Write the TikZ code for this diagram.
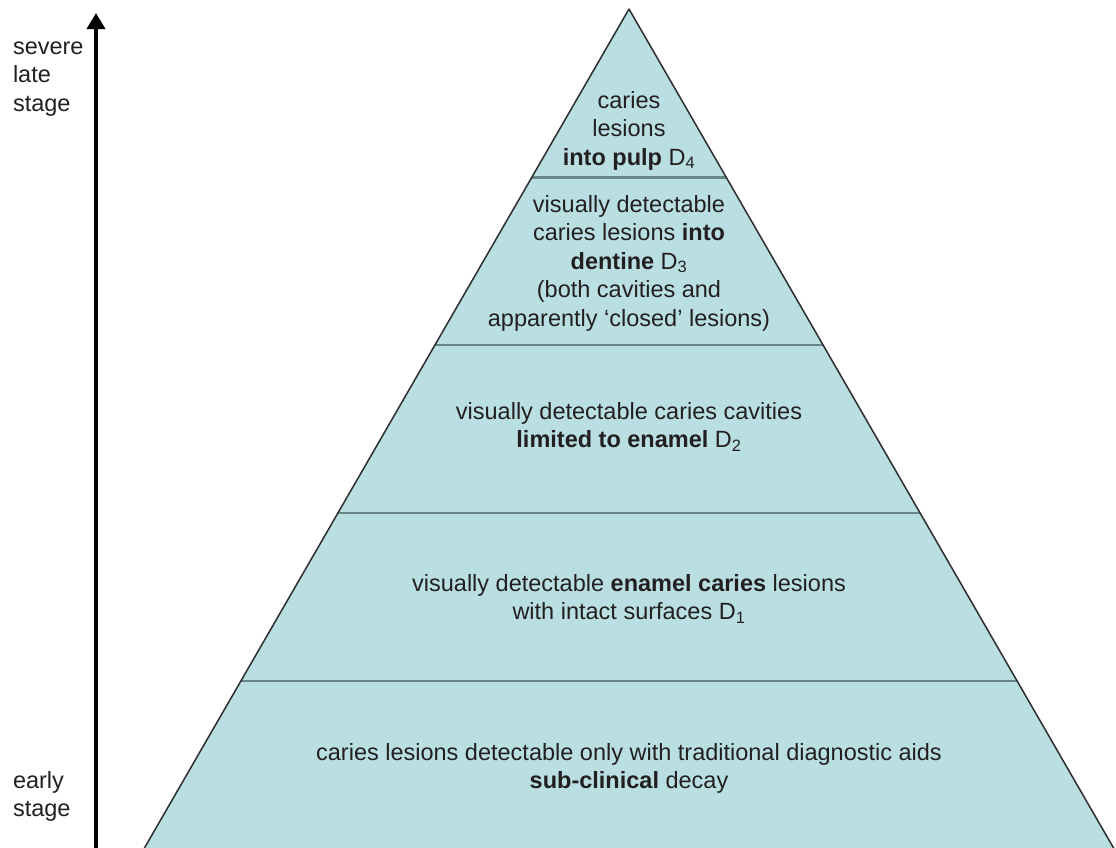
\documentclass[tikz,border=0pt]{standalone}
\usepackage{fontspec}
\setmainfont{Liberation Sans}
\usetikzlibrary{arrows.meta,calc}

\definecolor{layerfill}{RGB}{185,223,227}
\definecolor{divider}{RGB}{105,133,135}
\definecolor{edge}{RGB}{45,45,45}
\definecolor{ink}{RGB}{35,31,32}

% centred / left-aligned line stacks whose baseline is the first line
\newcommand{\cstack}[1]{\begin{tabular}[t]{@{}c@{}}#1\end{tabular}}
\newcommand{\lstack}[1]{\begin{tabular}[t]{@{}l@{}}#1\end{tabular}}

\begin{document}
\begin{tikzpicture}[x=1pt,y=-1pt,
  every node/.style={inner sep=0pt,outer sep=0pt,text=ink,
    font=\fontsize{23.5}{28.5}\selectfont},
  layertext/.style={anchor=base},
  sidetext/.style={anchor=base west},
  layerline/.style={draw=divider,line width=2.6pt},
  sideline/.style={draw=edge,line width=1.5pt,line join=round},
  axisarrow/.style={draw=black,line width=3.5pt,
    -{Triangle[length=16pt,width=18pt]}}]

\clip (0,0) rectangle (1116,847);

% pyramid outline (base runs past the lower edge)
\coordinate (apex) at (629,9);
\coordinate (bl) at ($(apex)!1.018!(145,847)$);
\coordinate (br) at ($(apex)!1.018!(1113,847)$);
\fill[layerfill] (apex) -- (bl) -- (br) -- cycle;

% boundaries between the stages
\foreach \y/\n in {177.5/a,345/b,513/c,681/d}{
  \pgfmathsetmacro{\t}{(\y-9)/838}
  \coordinate (\n L) at ($(apex)!\t!(145,847)$);
  \coordinate (\n R) at ($(apex)!\t!(1113,847)$);
  \draw[layerline] (\n L) -- (\n R);
}
\draw[sideline] (bl) -- (apex) -- (br);

% stage descriptions
\node[layertext] (d4) at (629,108)
  {\cstack{caries\\lesions\\\textbf{into pulp} D\textsubscript{4}}};
\node[layertext] (d3) at (629,212)
  {\cstack{visually detectable\\caries lesions \textbf{into}\\\textbf{dentine} D\textsubscript{3}\\(both cavities and\\apparently ‘closed’ lesions)}};
\node[layertext] (d2) at (629,419)
  {\cstack{visually detectable caries cavities\\\textbf{limited to enamel} D\textsubscript{2}}};
\node[layertext] (d1) at (629,591)
  {\cstack{visually detectable \textbf{enamel caries} lesions\\with intact surfaces D\textsubscript{1}}};
\node[layertext] (d0) at (629,760)
  {\cstack{caries lesions detectable only with traditional diagnostic aids\\\textbf{sub-clinical} decay}};

% severity axis
\coordinate (axisbottom) at (96,860);
\coordinate (axistop) at (96,13);
\draw[axisarrow] (axisbottom) -- (axistop);
\node[sidetext] (late) at (13,54) {\lstack{severe\\late\\stage}};
\node[sidetext] (early) at (13,788) {\lstack{early\\stage}};
\end{tikzpicture}
\end{document}
